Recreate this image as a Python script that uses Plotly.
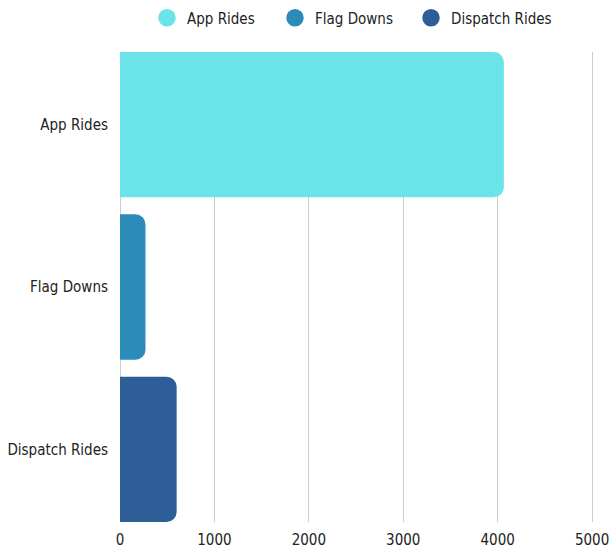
import plotly.graph_objects as go

categories = ["App Rides", "Flag Downs", "Dispatch Rides"]
values = [4065, 270, 600]
colors = ["#6AE4E8", "#2D8BBA", "#2D5E98"]
x_ticks = [0, 1000, 2000, 3000, 4000, 5000]

FONT = "DejaVu Sans Condensed, DejaVu Sans, sans-serif"
BAR_W = 0.895
W, H = 615, 548
X_MAX = 5020
legend_centers = [167, 295, 431]  # px of legend circle centres
legend_names = ["legend", "legend2", "legend3"]

fig = go.Figure()
for cat, val, col in zip(categories, values, colors):
    fig.add_trace(go.Bar(
        x=[val], y=[cat], orientation="h", name=cat,
        marker=dict(color=col, line=dict(width=0)),
        width=BAR_W, showlegend=False, hoverinfo="x+y",
    ))
for cat, col, lg in zip(categories, colors, legend_names):
    fig.add_trace(go.Scatter(
        x=[None], y=[None], mode="markers", name=cat, legend=lg,
        marker=dict(color=col, size=16, symbol="circle", line=dict(color=col, width=1.5)),
        showlegend=True,
    ))

legend_common = dict(orientation="h", xanchor="left", yanchor="middle",
                     xref="container", yref="container",
                     y=1 - 18 / H, font=dict(size=15, color="#222222"),
                     bgcolor="rgba(0,0,0,0)")
fig.update_layout(
    width=W, height=H,
    margin=dict(l=120, r=21, t=52, b=26, autoexpand=False),
    paper_bgcolor="white", plot_bgcolor="white",
    barmode="overlay", barcornerradius=10,
    font=dict(family=FONT, size=15, color="#222222"),
)
for lg, cx in zip(legend_names, legend_centers):
    fig.update_layout({lg: dict(legend_common, x=(cx - 20) / W)})

fig.update_xaxes(range=[0, X_MAX], tickvals=x_ticks, showgrid=True,
                 gridcolor="#CCCCCC", gridwidth=1, zeroline=False,
                 showline=False, ticks="", fixedrange=True,
                 ticklabelstandoff=7, automargin=False)
fig.update_yaxes(categoryorder="array", categoryarray=categories,
                 range=[2 + BAR_W / 2, -BAR_W / 2], showgrid=False,
                 zeroline=False, showline=False, ticks="",
                 ticklabelstandoff=11, automargin=False, fixedrange=True)
fig.add_shape(type="line", xref="x", yref="paper", x0=0, x1=0, y0=0, y1=1,
              line=dict(color="#999999", width=1), layer="below")

fig.write_html("out.html", config={"displayModeBar": False},
               post_script="document.body.style.margin='0';")
